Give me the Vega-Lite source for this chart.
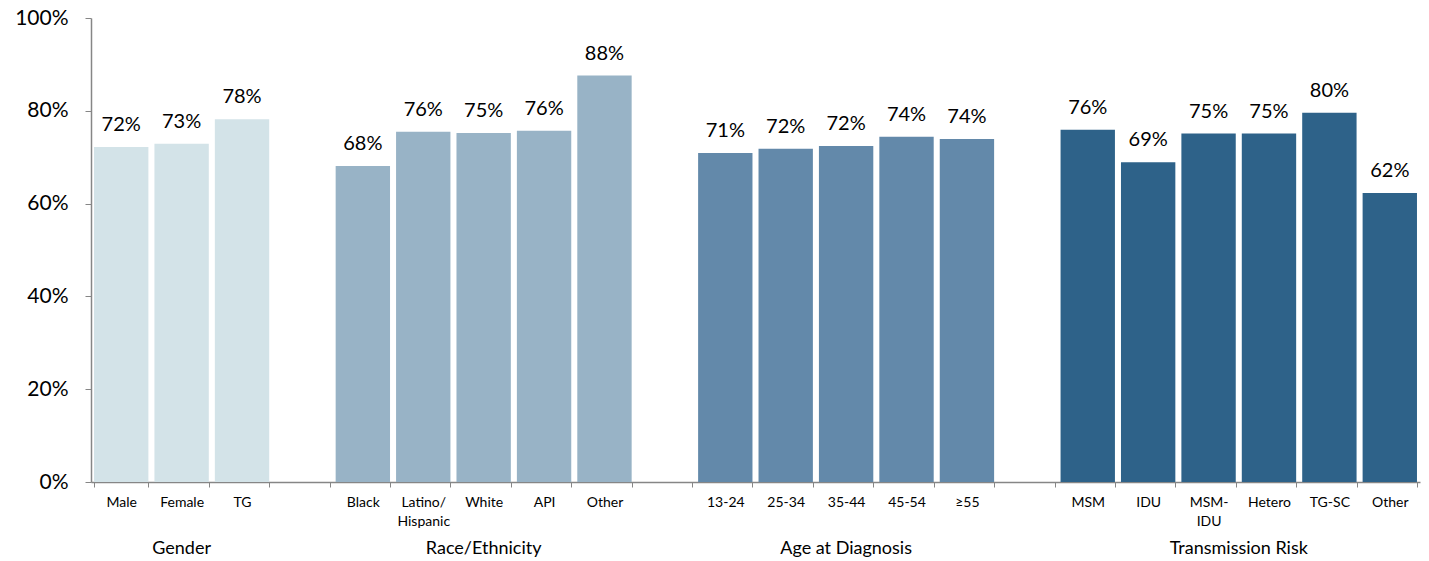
{
  "$schema": "https://vega.github.io/schema/vega-lite/v6.json",
  "autosize": "none",
  "width": 1329,
  "height": 464,
  "padding": {"left": 91, "top": 18, "right": 9, "bottom": 79},
  "background": "white",
  "config": {"font": "Lato", "view": {"stroke": null}},
  "datasets": {
    "bars": [
      {"key": "Male", "group": "Gender", "value": 0.722},
      {"key": "Female", "group": "Gender", "value": 0.729},
      {"key": "TG", "group": "Gender", "value": 0.782},
      {"key": "Black", "group": "Race/Ethnicity", "value": 0.681},
      {"key": "Latino/Hispanic", "group": "Race/Ethnicity", "value": 0.755},
      {"key": "White", "group": "Race/Ethnicity", "value": 0.752},
      {"key": "API", "group": "Race/Ethnicity", "value": 0.757},
      {"key": "Other (race)", "group": "Race/Ethnicity", "value": 0.876},
      {"key": "13-24", "group": "Age at Diagnosis", "value": 0.709},
      {"key": "25-34", "group": "Age at Diagnosis", "value": 0.718},
      {"key": "35-44", "group": "Age at Diagnosis", "value": 0.724},
      {"key": "45-54", "group": "Age at Diagnosis", "value": 0.744},
      {"key": "≥55", "group": "Age at Diagnosis", "value": 0.739},
      {"key": "MSM", "group": "Transmission Risk", "value": 0.759},
      {"key": "IDU", "group": "Transmission Risk", "value": 0.689},
      {"key": "MSM-IDU", "group": "Transmission Risk", "value": 0.751},
      {"key": "Hetero", "group": "Transmission Risk", "value": 0.751},
      {"key": "TG-SC", "group": "Transmission Risk", "value": 0.796},
      {"key": "Other (risk)", "group": "Transmission Risk", "value": 0.623}
    ],
    "groups": [
      {"group": "Gender", "center": 1.5},
      {"group": "Race/Ethnicity", "center": 6.5},
      {"group": "Age at Diagnosis", "center": 12.5},
      {"group": "Transmission Risk", "center": 19}
    ]
  },
  "layer": [
    {
      "data": {"name": "bars"},
      "encoding": {
        "x": {
          "field": "key", "type": "nominal", "sort": null,
          "scale": {"domain": ["Male","Female","TG","gap1","Black","Latino/Hispanic","White","API","Other (race)","gap2","13-24","25-34","35-44","45-54","≥55","gap3","MSM","IDU","MSM-IDU","Hetero","TG-SC","Other (risk)"], "paddingInner": 0.1, "paddingOuter": 0.05},
          "axis": {
            "title": null,
            "labelAngle": 0,
            "labelFontSize": 14,
            "labelColor": "#000000",
            "labelPadding": 8,
            "labelBaseline": "top",
            "labelLineHeight": 19,
            "labelExpr": "indexof(datum.label,'gap')==0 ? '' : indexof(datum.label,'Other')==0 ? 'Other' : datum.label=='Latino/Hispanic' ? ['Latino/','Hispanic'] : datum.label=='MSM-IDU' ? ['MSM-','IDU'] : datum.label",
            "tickBand": "extent",
            "tickSize": 5,
            "tickColor": "#868686",
            "domainColor": "#868686",
            "domainWidth": 1.5,
            "grid": false
          }
        },
        "y": {
          "field": "value", "type": "quantitative",
          "scale": {"domain": [0, 1], "nice": false},
          "axis": {
            "title": null,
            "values": [0, 0.2, 0.4, 0.6, 0.8, 1],
            "format": ".0%",
            "labelFontSize": 21,
            "labelColor": "#000000",
            "labelPadding": 17,
            "tickSize": 6,
            "tickColor": "#868686",
            "domainColor": "#868686",
            "domainWidth": 1.5,
            "grid": false
          }
        }
      },
      "layer": [
        {
          "mark": {"type": "bar"},
          "encoding": {
            "color": {
              "field": "group", "type": "nominal",
              "scale": {"domain": ["Gender","Race/Ethnicity","Age at Diagnosis","Transmission Risk"], "range": ["#d3e3e8","#98b3c6","#6389aa","#2e6289"]},
              "legend": null
            }
          }
        },
        {
          "mark": {"type": "text", "baseline": "alphabetic", "dy": -16, "fontSize": 20, "color": "#000000"},
          "encoding": {
            "text": {"field": "value", "type": "quantitative", "format": ".0%"}
          }
        }
      ]
    },
    {
      "data": {"name": "groups"},
      "mark": {"type": "text", "baseline": "middle", "fontSize": 18, "color": "#000000"},
      "encoding": {
        "x": {"field": "center", "type": "quantitative", "scale": {"domain": [0, 22], "nice": false, "zero": false}, "axis": null},
        "y": {"datum": -0.145, "type": "quantitative"},
        "text": {"field": "group", "type": "nominal"}
      }
    }
  ],
  "resolve": {"scale": {"x": "independent"}}
}
